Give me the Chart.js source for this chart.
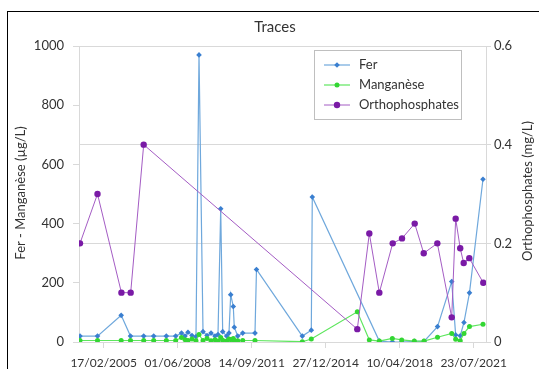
<!DOCTYPE html>
<html>
<head>
<meta charset="utf-8">
<script src="https://cdn.jsdelivr.net/npm/chart.js@4.4.0/dist/chart.umd.min.js"></script>
<style>
  html, body { margin: 0; padding: 0; background: #fff; }
  #wrap { width: 539px; height: 369px; overflow: hidden; }
</style>
</head>
<body>
<div id="wrap"><canvas id="chartTraces" width="539" height="369"></canvas></div>
<script>
// dates en numeros de serie Excel (jours depuis le 30/12/1899)
const datesFer = [38016, 38300, 38684, 38835, 39049, 39211, 39416, 39568,
  39662, 39719, 39767, 39832, 39897, 39946, 40011, 40076, 40141, 40205, 40254,
  40298, 40330, 40395, 40432, 40460, 40502, 40518, 40574, 40655,
  40854, 40878, 41621, 41767, 41783, 42870, 43081, 43233, 43437, 43595,
  43814, 44044, 44108, 44182, 44243, 44332, 44551];
const fer = [20, 20, 90, 20, 20, 20, 20, 20,
  30, 20, 33, 22, 18, 970, 35, 22, 30, 20, 25,
  450, 35, 20, 30, 160, 120, 50, 20, 30,
  30, 245, 20, 40, 490, 3, 0, 0, 2, 2,
  52, 204, 24, 21, 66, 166, 550];

const datesMn = [38016, 38300, 38684, 38835, 39049, 39211, 39416, 39568,
  39662, 39719, 39767, 39832, 39897, 39946, 40011, 40076, 40141, 40205, 40254,
  40298, 40330, 40395, 40432, 40460, 40502, 40518, 40574, 40655,
  40854, 41621, 41767, 42513, 42708, 42870, 43081, 43233, 43437, 43595,
  43814, 44044, 44108, 44182, 44243, 44332, 44551];
const manganese = [5, 5, 5, 5, 5, 5, 5, 5,
  15, 8, 5, 10, 4, 25, 5, 12, 4, 8, 3,
  15, 6, 3, 10, 8, 12, 5, 4, 5,
  5, 1, 10, 102, 7, 3, 12, 7, 3, 3,
  16, 29, 9, 4, 29, 52, 60];

const datesOrtho = [38016, 38300, 38688, 38838, 39049, 42513, 42708, 42870,
  43087, 43238, 43444, 43590, 43811, 44044, 44108, 44182, 44238, 44329, 44556];
const ortho = [0.2, 0.3, 0.1, 0.1, 0.4, 0.026, 0.22, 0.1,
  0.2, 0.21, 0.24, 0.18, 0.2, 0.05, 0.25, 0.19, 0.16, 0.17, 0.12];

const xTicks = [38400, 39600, 40800, 42000, 43200, 44400];
const leftTicks = [0, 200, 400, 600, 800, 1000];
const rightTicks = [0, 0.2, 0.4, 0.6];

const FONT = "Lato, 'Open Sans', sans-serif";
const TXT = "#333333";

function pts(xs, ys) {
  return xs.map((x, i) => ({ x: x, y: ys[i] }));
}

function serialToText(v) {
  const d = new Date(Date.UTC(1899, 11, 30) + v * 86400000);
  const dd = String(d.getUTCDate()).padStart(2, "0");
  const mm = String(d.getUTCMonth() + 1).padStart(2, "0");
  return dd + "/" + mm + "/" + d.getUTCFullYear();
}

const series = [
  { label: "Fer", line: "#6fa8dc", mark: "#3a7fd0", style: "rectRot", r: 2.8, w: 1.2 },
  { label: "Manganèse", line: "#5ee65e", mark: "#33d633", style: "circle", r: 2.5, w: 1.2 },
  { label: "Orthophosphates", line: "#a45cc4", mark: "#7a1aa6", style: "circle", r: 3.2, w: 1 },
];

const decor = {
  id: "decor",
  beforeDraw(chart) {
    const c = chart.ctx;
    c.save();
    c.fillStyle = "#fff";
    c.fillRect(0, 0, chart.width, chart.height);
    c.strokeStyle = "#000";
    c.lineWidth = 1;
    c.strokeRect(7.5, 11.5, 600, 400);
    c.restore();
  },
  afterDraw(chart) {
    const c = chart.ctx;
    c.save();
    c.fillStyle = TXT;
    c.textAlign = "center";
    c.textBaseline = "middle";
    c.font = "15px " + FONT;
    c.fillText("Traces", 275, 27);

    c.font = "13px " + FONT;
    c.save();
    c.translate(21, 193);
    c.rotate(-Math.PI / 2);
    c.fillText("Fer - Manganèse (µg/L)", 0, 0);
    c.restore();
    c.save();
    c.translate(528, 191);
    c.rotate(-Math.PI / 2);
    c.fillText("Orthophosphates (mg/L)", 0, 0);
    c.restore();

    // legende
    c.fillStyle = "#fff";
    c.fillRect(314, 50, 147, 69);
    c.strokeStyle = "#bfbfbf";
    c.lineWidth = 1;
    c.strokeRect(314.5, 50.5, 147, 69);
    series.forEach((s, i) => {
      const y = 65 + i * 20;
      c.strokeStyle = s.line;
      c.lineWidth = s.w;
      c.beginPath();
      c.moveTo(324, y);
      c.lineTo(350, y);
      c.stroke();
      c.fillStyle = s.mark;
      c.beginPath();
      if (s.style === "rectRot") {
        c.moveTo(337, y - s.r);
        c.lineTo(337 + s.r, y);
        c.lineTo(337, y + s.r);
        c.lineTo(337 - s.r, y);
        c.closePath();
      } else {
        c.arc(337, y, s.r, 0, Math.PI * 2);
      }
      c.fill();
      c.fillStyle = TXT;
      c.textAlign = "left";
      c.fillText(s.label, 359, y);
    });
    c.restore();
  },
};

function makeSet(s, data, axis, order) {
  return {
    label: s.label,
    data: data,
    yAxisID: axis,
    order: order,
    borderColor: s.line,
    borderWidth: s.w,
    backgroundColor: s.mark,
    pointBackgroundColor: s.mark,
    pointBorderColor: s.mark,
    pointBorderWidth: 0,
    pointStyle: s.style,
    pointRadius: s.r,
    tension: 0,
    fill: false,
  };
}

const ctx = document.getElementById("chartTraces");
const myChart = new Chart(ctx, {
  type: "line",
  data: {
    datasets: [
      makeSet(series[0], pts(datesFer, fer), "y", 3),
      makeSet(series[1], pts(datesMn, manganese), "y", 2),
      makeSet(series[2], pts(datesOrtho, ortho), "y1", 1),
    ],
  },
  options: {
    responsive: false,
    animation: false,
    layout: { padding: { top: 46, left: 0, right: 0, bottom: 0 } },
    plugins: {
      legend: { display: false },
      title: { display: false },
      tooltip: { enabled: false },
    },
    scales: {
      x: {
        type: "linear",
        min: 38000,
        max: 44600,
        afterBuildTicks: (scale) => {
          scale.ticks = xTicks.map((v) => ({ value: v }));
        },
        afterFit: (scale) => { scale.height = 27; },
        grid: { drawOnChartArea: false, drawTicks: true, tickLength: 6, color: "#d9d9d9" },
        border: { color: "#d9d9d9" },
        ticks: {
          padding: 8,
          maxRotation: 0,
          autoSkip: false,
          color: TXT,
          font: { family: FONT, size: 12 },
          callback: (v) => serialToText(v),
        },
      },
      y: {
        position: "left",
        min: 0,
        max: 1000,
        afterBuildTicks: (scale) => {
          scale.ticks = leftTicks.map((v) => ({ value: v }));
        },
        afterFit: (scale) => { scale.width = 79; },
        grid: { drawOnChartArea: false, drawTicks: true, tickLength: 6, color: "#d9d9d9" },
        border: { color: "#d9d9d9" },
        ticks: {
          padding: 9,
          color: TXT,
          font: { family: FONT, size: 13 },
          callback: (v) => String(v),
        },
      },
      y1: {
        position: "right",
        min: 0,
        max: 0.6,
        afterBuildTicks: (scale) => {
          scale.ticks = rightTicks.map((v) => ({ value: v }));
        },
        afterFit: (scale) => { scale.width = 53; },
        grid: { drawOnChartArea: true, drawTicks: true, tickLength: 5, color: "#d9d9d9" },
        border: { color: "#d9d9d9" },
        ticks: {
          padding: 3,
          color: TXT,
          font: { family: FONT, size: 13 },
          callback: (v) => String(Math.round(v * 10) / 10),
        },
      },
    },
  },
  plugins: [decor],
});
</script>
</body>
</html>
